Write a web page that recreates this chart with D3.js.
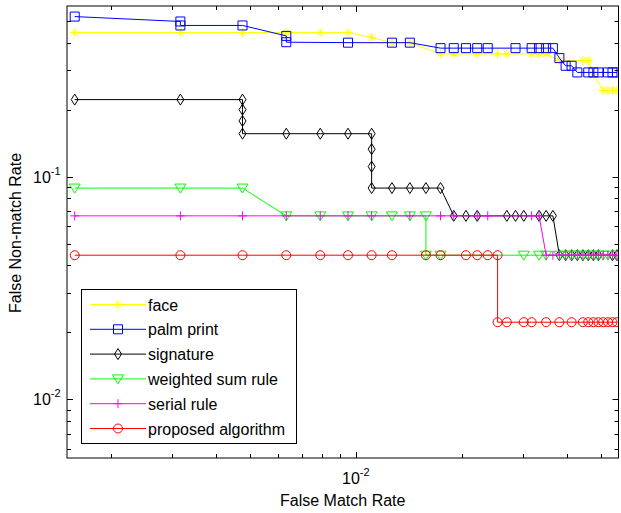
<!DOCTYPE html>
<html>
<head>
<meta charset="utf-8">
<script src="https://cdn.jsdelivr.net/npm/d3@7"></script>
<style>
  body { margin: 0; background: #fff; }
  svg { display: block; font-family: "Liberation Sans", Arial, sans-serif; }
</style>
</head>
<body>
<div class="graphHere"></div>
<script>
// operating points (FMR on x, FNMR on y)
var faceX = [0.00158, 0.00316, 0.00475, 0.00633, 0.00791, 0.00949, 0.01108, 0.01266, 0.01424, 0.01741, 0.01899, 0.02215, 0.02532, 0.0269, 0.03165, 0.03323, 0.03481, 0.03797, 0.0443, 0.04589, 0.04747, 0.05063, 0.05222, 0.0538, 0.05538];
var faceY = [0.444, 0.444, 0.444, 0.444, 0.444, 0.444, 0.422, 0.4, 0.4, 0.356, 0.356, 0.356, 0.356, 0.356, 0.356, 0.356, 0.356, 0.333, 0.333, 0.333, 0.289, 0.244, 0.244, 0.244, 0.244];

var palmX = [0.00158, 0.00316, 0.00316, 0.00475, 0.00633, 0.00633, 0.00949, 0.01266, 0.01424, 0.01741, 0.01899, 0.02057, 0.02215, 0.02373, 0.02848, 0.03165, 0.03323, 0.03481, 0.03639, 0.03797, 0.03956, 0.04114, 0.04272, 0.04589, 0.04747, 0.04905, 0.05222, 0.0538, 0.05538];
var palmY = [0.524, 0.498, 0.478, 0.478, 0.429, 0.402, 0.4, 0.4, 0.4, 0.378, 0.378, 0.378, 0.378, 0.378, 0.378, 0.378, 0.378, 0.378, 0.378, 0.341, 0.315, 0.315, 0.294, 0.294, 0.294, 0.294, 0.294, 0.294, 0.294];

var signX = [0.00158, 0.00316, 0.00475, 0.00475, 0.00475, 0.00475, 0.00633, 0.00791, 0.00949, 0.01108, 0.01108, 0.01108, 0.01108, 0.01266, 0.01424, 0.01582, 0.01741, 0.01899, 0.02057, 0.02215, 0.0269, 0.02848, 0.03006, 0.03323, 0.03481, 0.03639, 0.03797, 0.03956, 0.04114, 0.04272, 0.0443, 0.04589, 0.04747, 0.04905, 0.0538, 0.05538];
var signY = [0.222, 0.222, 0.222, 0.2, 0.178, 0.156, 0.156, 0.156, 0.156, 0.156, 0.133, 0.111, 0.0889, 0.0889, 0.0889, 0.0889, 0.0889, 0.0667, 0.0667, 0.0667, 0.0667, 0.0667, 0.0667, 0.0667, 0.0667, 0.0667, 0.0444, 0.0444, 0.0444, 0.0444, 0.0444, 0.0444, 0.0444, 0.0444, 0.0444, 0.0444];

var wsumX = [0.00158, 0.00316, 0.00475, 0.00633, 0.00791, 0.00949, 0.01108, 0.01266, 0.01424, 0.01582, 0.01582, 0.01741, 0.03006, 0.03323, 0.03481, 0.03797, 0.03956, 0.04114, 0.04272, 0.0443, 0.04589, 0.04747, 0.04905, 0.05063, 0.05222, 0.05538];
var wsumY = [0.0889, 0.0889, 0.0889, 0.0667, 0.0667, 0.0667, 0.0667, 0.0667, 0.0667, 0.0667, 0.0444, 0.0444, 0.0444, 0.0444, 0.0444, 0.0444, 0.0444, 0.0444, 0.0444, 0.0444, 0.0444, 0.0444, 0.0444, 0.0444, 0.0444, 0.0444];

var serialX = [0.00158, 0.00316, 0.00475, 0.00633, 0.00791, 0.00949, 0.01108, 0.01424, 0.01741, 0.01899, 0.02215, 0.02373, 0.03165, 0.03323, 0.03481, 0.03639, 0.03797, 0.03956, 0.04114, 0.04272, 0.0443, 0.04589, 0.04747, 0.04905, 0.05063, 0.05222, 0.0538, 0.05538];
var serialY = [0.0667, 0.0667, 0.0667, 0.0667, 0.0667, 0.0667, 0.0667, 0.0667, 0.0667, 0.0667, 0.0667, 0.0667, 0.0667, 0.0667, 0.0444, 0.0444, 0.0444, 0.0444, 0.0444, 0.0444, 0.0444, 0.0444, 0.0444, 0.0444, 0.0444, 0.0444, 0.0444, 0.0444];

var propX = [0.00158, 0.00316, 0.00475, 0.00633, 0.00791, 0.00949, 0.01108, 0.01266, 0.01582, 0.01741, 0.02057, 0.02215, 0.02373, 0.02532, 0.02532, 0.0269, 0.03006, 0.03165, 0.03481, 0.03797, 0.04114, 0.0443, 0.04589, 0.04747, 0.04905, 0.05063, 0.05222, 0.0538, 0.05538];
var propY = [0.0444, 0.0444, 0.0444, 0.0444, 0.0444, 0.0444, 0.0444, 0.0444, 0.0444, 0.0444, 0.0444, 0.0444, 0.0444, 0.0444, 0.0222, 0.0222, 0.0222, 0.0222, 0.0222, 0.0222, 0.0222, 0.0222, 0.0222, 0.0222, 0.0222, 0.0222, 0.0222, 0.0222, 0.0222];

var seriesNames = ["face", "palm print", "signature", "weighted sum rule", "serial rule", "proposed algorithm"];

var xMinorTicks = [0.002, 0.003, 0.004, 0.005, 0.006, 0.007, 0.008, 0.009, 0.02, 0.03, 0.04, 0.05];
var xMajorTicks = [0.01];
var yMinorTicks = [0.006, 0.007, 0.008, 0.009, 0.02, 0.03, 0.04, 0.05, 0.06, 0.07, 0.08, 0.09, 0.2, 0.3, 0.4, 0.5];
var yMajorTicks = [0.01, 0.1];
var xTickLabels = [{v: 0.01, base: "10", exp: "-2"}];
var yTickLabels = [{v: 0.1, base: "10", exp: "-1"}, {v: 0.01, base: "10", exp: "-2"}];

var dims = {width: 621, height: 513, left: 67, right: 618.5, top: 6, bottom: 458};

var svg = d3.select(".graphHere").append("svg")
  .attr("width", dims.width)
  .attr("height", dims.height);

var x = d3.scaleLog().domain([0.001502, 0.05596]).range([dims.left, dims.right]);
var y = d3.scaleLog().domain([0.5845, 0.00545]).range([dims.top, dims.bottom]);

svg.append("clipPath").attr("id", "plotclip")
  .append("rect")
    .attr("x", dims.left).attr("y", dims.top)
    .attr("width", dims.right - dims.left).attr("height", dims.bottom - dims.top);

// marker shapes
var markers = {
  star: "M-4.5,0H4.5M0,-4.5V4.5M-3.2,-3.2L3.2,3.2M-3.2,3.2L3.2,-3.2",
  square: "M-4.5,-4.5H4.5V4.5H-4.5Z",
  diamond: "M0,-5.5L3.5,0L0,5.5L-3.5,0Z",
  triDown: "M-5.5,-4L5.5,-4L0,5Z",
  plus: "M-4.5,0H4.5M0,-4.5V4.5",
  circle: "M4.5,0A4.5,4.5 0 1,1 -4.5,0A4.5,4.5 0 1,1 4.5,0Z"
};

var series = [
  {name: seriesNames[0], xs: faceX, ys: faceY, color: "#ffff00", marker: markers.star},
  {name: seriesNames[1], xs: palmX, ys: palmY, color: "#0000ff", marker: markers.square},
  {name: seriesNames[2], xs: signX, ys: signY, color: "#000000", marker: markers.diamond},
  {name: seriesNames[3], xs: wsumX, ys: wsumY, color: "#00ff00", marker: markers.triDown},
  {name: seriesNames[4], xs: serialX, ys: serialY, color: "#ff00ff", marker: markers.plus},
  {name: seriesNames[5], xs: propX, ys: propY, color: "#ff0000", marker: markers.circle}
];

var plot = svg.append("g").attr("clip-path", "url(#plotclip)");
var line = d3.line().x(function(d){ return x(d[0]); }).y(function(d){ return y(d[1]); });

series.forEach(function(s){
  var pts = s.xs.map(function(v, i){ return [v, s.ys[i]]; });
  var g = plot.append("g");
  g.append("path")
    .attr("d", line(pts))
    .attr("fill", "none")
    .attr("stroke", s.color)
    .attr("stroke-width", 1);
  g.selectAll("path.mk").data(pts).enter().append("path")
    .attr("class", "mk")
    .attr("d", s.marker)
    .attr("transform", function(d){ return "translate(" + x(d[0]) + "," + y(d[1]) + ")"; })
    .attr("fill", "none")
    .attr("stroke", s.color)
    .attr("stroke-width", 1);
});

// axes box and inward ticks on all four sides
var axes = svg.append("g").attr("stroke", "#000").attr("stroke-width", 1);
axes.append("rect")
  .attr("x", dims.left).attr("y", dims.top)
  .attr("width", dims.right - dims.left).attr("height", dims.bottom - dims.top)
  .attr("fill", "none");

function xTicks(vals, len){
  vals.forEach(function(v){
    var px = Math.round(x(v)) + 0.5;
    axes.append("line").attr("x1", px).attr("x2", px).attr("y1", dims.bottom).attr("y2", dims.bottom - len);
    axes.append("line").attr("x1", px).attr("x2", px).attr("y1", dims.top).attr("y2", dims.top + len);
  });
}
function yTicks(vals, len){
  vals.forEach(function(v){
    var py = Math.round(y(v)) + 0.5;
    axes.append("line").attr("y1", py).attr("y2", py).attr("x1", dims.left).attr("x2", dims.left + len);
    axes.append("line").attr("y1", py).attr("y2", py).attr("x1", dims.right).attr("x2", dims.right - len);
  });
}
xTicks(xMinorTicks, 4);
xTicks(xMajorTicks, 6);
yTicks(yMinorTicks, 4);
yTicks(yMajorTicks, 6);

// tick labels with superscript exponents
xTickLabels.forEach(function(t){
  var txt = svg.append("text")
    .attr("x", x(t.v) - 14).attr("y", 484)
    .attr("font-size", 16).attr("fill", "#000");
  txt.append("tspan").text(t.base);
  txt.append("tspan").attr("dy", -8).attr("font-size", 11).text(t.exp);
});
yTickLabels.forEach(function(t){
  var txt = svg.append("text")
    .attr("x", 33).attr("y", y(t.v) + 6)
    .attr("font-size", 16).attr("fill", "#000");
  txt.append("tspan").text(t.base);
  txt.append("tspan").attr("dy", -8).attr("font-size", 11).text(t.exp);
});

svg.append("text")
  .attr("x", (dims.left + dims.right) / 2).attr("y", 506)
  .attr("text-anchor", "middle").attr("font-size", 16)
  .text("False Match Rate");

svg.append("text")
  .attr("transform", "translate(21,233) rotate(-90)")
  .attr("text-anchor", "middle").attr("font-size", 16)
  .text("False Non-match Rate");

// legend
var legend = svg.append("g");
legend.append("rect")
  .attr("x", 81.5).attr("y", 289.5).attr("width", 215).attr("height", 154)
  .attr("fill", "#fff").attr("stroke", "#000").attr("stroke-width", 1);

series.forEach(function(s, i){
  var ly = 304.5 + i * 24.8;
  legend.append("line")
    .attr("x1", 90).attr("x2", 146).attr("y1", ly).attr("y2", ly)
    .attr("stroke", s.color).attr("stroke-width", 1);
  legend.append("path")
    .attr("d", s.marker)
    .attr("transform", "translate(118," + ly + ")")
    .attr("fill", "none").attr("stroke", s.color).attr("stroke-width", 1);
  legend.append("text")
    .attr("x", 148).attr("y", ly + 6)
    .attr("font-size", 16)
    .text(s.name);
});
</script>
</body>
</html>
